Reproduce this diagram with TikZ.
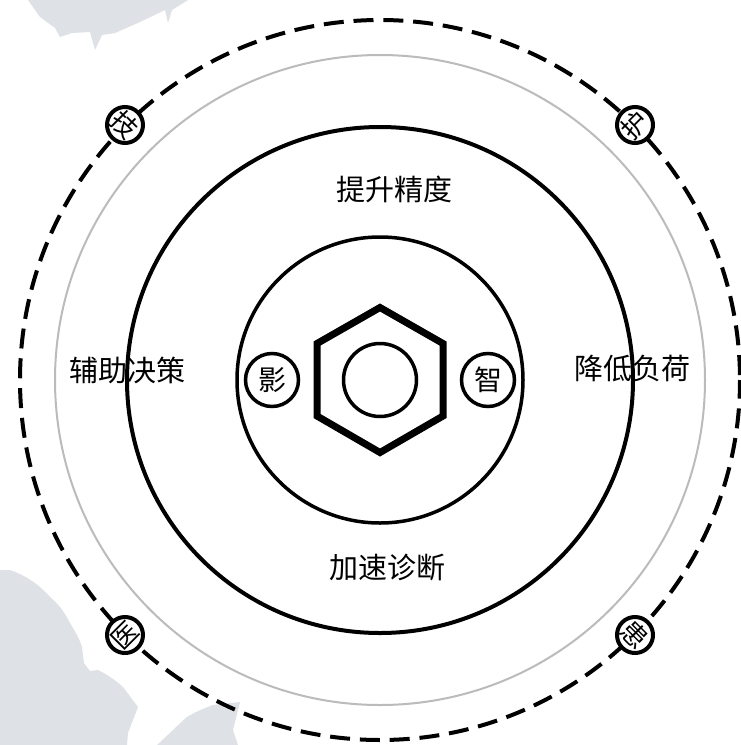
\documentclass[tikz,border=0pt]{standalone}
\usepackage{fontspec}
\setmainfont{Noto Sans CJK SC}
\definecolor{landc}{HTML}{DEE1E6}
\definecolor{ringgray}{HTML}{BBBBBB}
\tikzset{x=1pt,y=1pt,
 ring/.style={draw=black,line width=#1,fill=none},
 badge/.style={circle,draw=black,fill=white,line width=#1,inner sep=0pt,minimum size=53pt,font=\fontsize{28}{28}\selectfont},
 corner/.style={circle,draw=black,fill=white,line width=4pt,inner sep=0pt,minimum size=36pt,font=\fontsize{26}{26}\selectfont},
 lab/.style={inner sep=0pt,font=\fontsize{29}{29}\selectfont},
 land/.style={fill=landc,draw=none}}
\begin{document}
\begin{tikzpicture}
\useasboundingbox (0,0) rectangle (741,-745);
\fill[white] (0,0) rectangle (741,-745);
\begin{scope}
\clip (0,0) rectangle (741,-745);
\fill[land] (28,0) -- (40,-17) -- (55,-28) -- (60,-37) -- (72,-33) -- (90,-32) -- (95,-50) -- (102,-35) -- (115,-33) -- (140,-22) -- (165,-10) -- (168,-23) -- (172,-10) -- (188,0) -- cycle;
\fill[land] (0,-570) -- (10,-570) .. controls (30,-577) and (42,-588) .. (50,-597) .. controls (60,-605) and (66,-615) .. (70,-623) .. controls (76,-633) and (80,-640) .. (82,-647) -- (84,-663) -- (90,-671) -- (98,-670) .. controls (108,-675) and (115,-680) .. (123,-687) -- (138,-707) -- (128,-733) -- (127,-745) -- (0,-745) -- cycle;
\fill[land] (157,-745) .. controls (168,-735) and (178,-725) .. (187,-717) .. controls (195,-712) and (205,-708) .. (213,-705) -- (240,-702) -- (233,-730) -- (238,-745) -- cycle;
\end{scope}
\coordinate (c) at (380,-380);
\draw[ring=4pt,dash pattern=on 20pt off 9.85pt,dash phase=24.925pt] (c) circle[radius=360];
\draw[draw=ringgray,line width=2pt] (c) circle[radius=325];
\draw[ring=4pt] (c) circle[radius=253];
\draw[ring=3.5pt] (c) circle[radius=143];
\draw[ring=7pt,line join=miter] (380,-307.5) -- (443,-343.5) -- (443,-416) -- (380,-452.5) -- (317,-416) -- (317,-343.5) -- cycle;
\node[circle,draw=black,line width=3.5pt,minimum size=53pt,inner sep=0pt,minimum size=73pt] (hub) at (c) {};
\node[badge=3.5pt] (ying) at (272,-380) {影};
\node[badge=3.5pt] (zhi) at (488,-380) {智};
\node[lab] (t1) at (394,-189) {提升精度};
\node[lab] (t2) at (387,-568) {加速诊断};
\node[lab] (t3) at (127,-370) {辅助决策};
\node[lab] (t4) at (632,-369) {降低负荷};
\node[corner,rotate=-45] (c1) at (125,-125) {技};
\node[corner,rotate=45] (c2) at (635,-125) {护};
\node[corner,rotate=45] (c3) at (125,-635) {医};
\node[corner,rotate=-45] (c4) at (635,-635) {患};
\end{tikzpicture}
\end{document}
